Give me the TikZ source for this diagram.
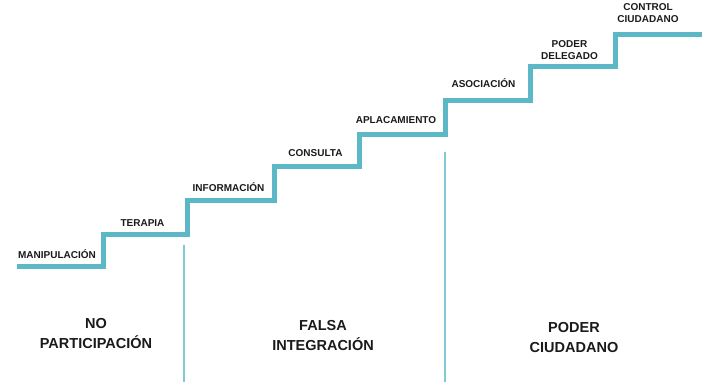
\documentclass[tikz,border=0pt]{standalone}
\usepackage{fontspec}
\setmainfont{Liberation Sans}
\usepackage{xcolor}
\definecolor{myteal}{RGB}{92,184,198}
\definecolor{mylightteal}{RGB}{128,202,212}
\definecolor{myblack}{RGB}{26,26,26}
\tikzset{
  steplabel/.style={anchor=south, inner sep=0pt, align=center, myblack,
    font=\fontsize{10}{12}\selectfont\bfseries},
  grouplabel/.style={inner sep=0pt, align=center, myblack,
    font=\fontsize{14.5}{20}\selectfont\bfseries}
}
\begin{document}
\begin{tikzpicture}[x=1pt,y=-1pt]
\useasboundingbox (0,0) rectangle (702,382);
% staircase corners
\coordinate (S0) at (17, 267);
\coordinate (S1) at (103, 267);
\coordinate (S2) at (103, 234.5);
\coordinate (S3) at (187.5, 234.5);
\coordinate (S4) at (187.5, 200.5);
\coordinate (S5) at (274, 200.5);
\coordinate (S6) at (274, 167);
\coordinate (S7) at (359, 167);
\coordinate (S8) at (359, 134.5);
\coordinate (S9) at (445, 134.5);
\coordinate (S10) at (445, 100.5);
\coordinate (S11) at (530, 100.5);
\coordinate (S12) at (530, 67);
\coordinate (S13) at (615, 67);
\coordinate (S14) at (615, 34.5);
\coordinate (S15) at (702, 34.5);
\draw [myteal, line width=5pt] (S0) -- (S1) -- (S2) -- (S3) -- (S4) -- (S5) -- (S6)
  -- (S7) -- (S8) -- (S9) -- (S10) -- (S11) -- (S12) -- (S13) -- (S14) -- (S15);
% separators
\coordinate (D1top) at (184, 245);
\coordinate (D1bot) at (184, 382);
\coordinate (D2top) at (445, 152);
\coordinate (D2bot) at (445, 382);
\draw [mylightteal, line width=1.8pt] (D1top) -- (D1bot);
\draw [mylightteal, line width=1.8pt] (D2top) -- (D2bot);
% step labels
\node[steplabel] (manip) at (57, 259) {MANIPULACIÓN};
\node[steplabel] (terapia) at (142.5, 227) {TERAPIA};
\node[steplabel] (info) at (228.5, 192) {INFORMACIÓN};
\node[steplabel] (consulta) at (315.5, 157) {CONSULTA};
\node[steplabel] (aplac) at (396, 124) {APLACAMIENTO};
\node[steplabel] (asoc) at (483.5, 88) {ASOCIACIÓN};
\node[steplabel] (delegado) at (569.5, 60) {PODER\\DELEGADO};
\node[steplabel] (control) at (648, 23) {CONTROL\\CIUDADANO};
% group labels
\node[grouplabel] (nopart) at (96, 334) {NO\\PARTICIPACIÓN};
\node[grouplabel] (falsa) at (323, 336) {FALSA\\INTEGRACIÓN};
\node[grouplabel] (poder) at (574, 338) {PODER\\CIUDADANO};
\end{tikzpicture}
\end{document}
